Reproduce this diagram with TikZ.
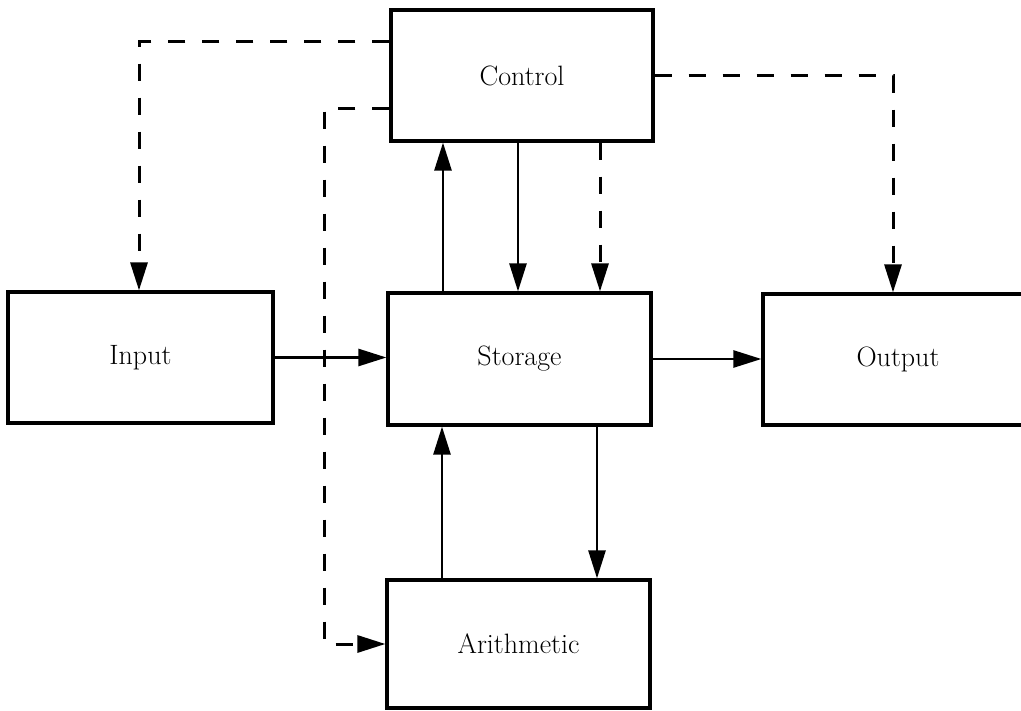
\documentclass[tikz,border=0pt]{standalone}
\usetikzlibrary{arrows.meta}
\begin{document}
\begin{tikzpicture}[x=1pt,y=-1pt,
  unit/.style={draw, line width=3.2pt, rectangle, inner sep=0pt,
    font=\fontsize{28}{34}\selectfont},
  flow/.style={line width=2.6pt, -{Triangle[length=28pt,width=17pt]}},
  ctl/.style={flow, line width=3pt, dash pattern=on 17pt off 17pt}]
\useasboundingbox (0,0) rectangle (1021,711);

% functional units
\node[unit, minimum width=262pt, minimum height=131pt] (Control)    at (522,75.5)  {Control};
\node[unit, minimum width=265pt, minimum height=131pt] (Input)      at (140.5,357.5) {Input};
\node[unit, minimum width=263pt, minimum height=132pt] (Storage)    at (519.5,359) {Storage};
\node[unit, minimum width=270pt, minimum height=131pt] (Output)     at (898,359.5) {Output};
\node[unit, minimum width=263pt, minimum height=128pt] (Arithmetic) at (518.5,644) {Arithmetic};

% routing guides
\coordinate (xup)   at (443,0);
\coordinate (xdown) at (518,0);
\coordinate (xdash) at (600,0);
\coordinate (xau)   at (442,0);
\coordinate (xad)   at (597,0);
\coordinate (xleft) at (324,0);
\coordinate (xin)   at (139,0);
\coordinate (xout)  at (893,0);
\coordinate (ytop)  at (0,42);
\coordinate (ymid)  at (0,109);
\coordinate (yright) at (0,76);

% data paths
\draw[flow] (Input.east) -- (Input.east -| Storage.west);
\draw[flow] (Storage.east) -- (Storage.east -| Output.west);
\draw[flow] (Storage.north -| xup) -- (Control.south -| xup);
\draw[flow] (Control.south -| xdown) -- (Storage.north -| xdown);
\draw[flow] (Arithmetic.north -| xau) -- (Storage.south -| xau);
\draw[flow] (Storage.south -| xad) -- (Arithmetic.north -| xad);

% control signals
\draw[ctl] (Control.west |- ytop) -| (Input.north -| xin);
\draw[ctl] (Control.west |- ymid) -| (xleft |- Arithmetic.west) -- (Arithmetic.west);
\draw[ctl] (Control.east |- yright) -| (Output.north -| xout);
\draw[ctl] (Control.south -| xdash) -- (Storage.north -| xdash);
\end{tikzpicture}
\end{document}
